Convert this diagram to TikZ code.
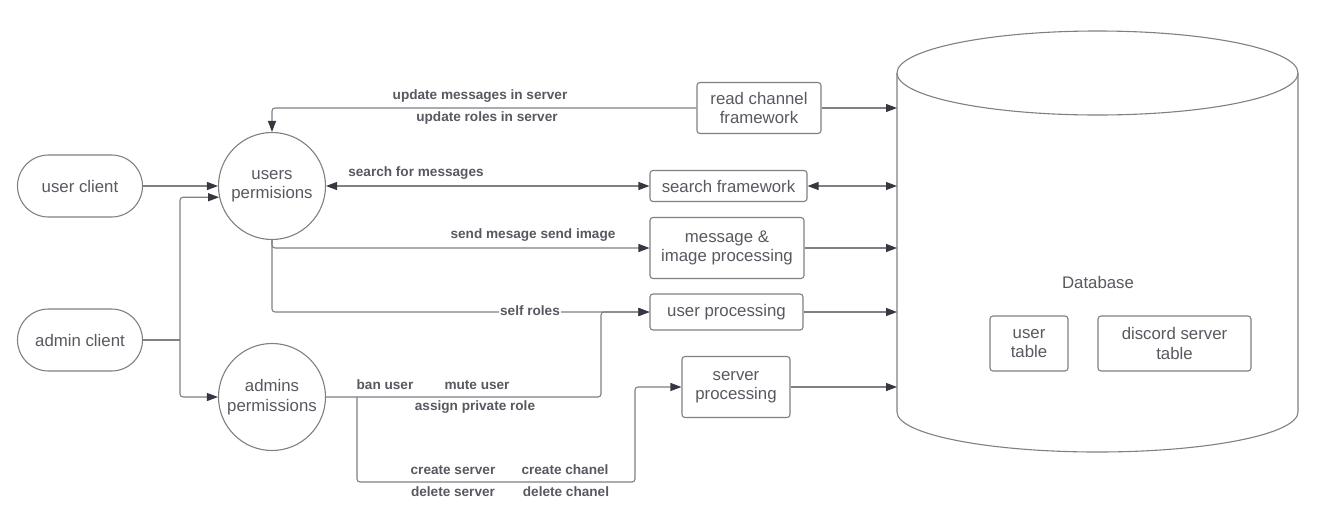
\documentclass[tikz,border=0pt]{standalone}
\usepackage{fontspec}
\setmainfont{Liberation Sans}
\usetikzlibrary{arrows.meta}

\definecolor{linegray}{RGB}{128,128,132}
\definecolor{textgray}{RGB}{88,88,96}
\definecolor{tipgray}{RGB}{55,55,65}

\begin{document}
\begin{tikzpicture}[x=1pt,y=1pt,yscale=-1,
  every node/.style={text=textgray,font=\fontsize{16.8}{19.5}\selectfont},
  client/.style={draw=linegray,line width=1.1pt,rounded corners=31pt,minimum width=125,minimum height=62},
  perm/.style={circle,draw=linegray,line width=1.1pt,minimum size=107,inner sep=0pt,align=center},
  procbox/.style={draw=linegray,line width=1.1pt,rounded corners=3pt,align=center,inner sep=1pt},
  lab/.style={font=\fontsize{13.6}{16}\selectfont\bfseries,inner sep=1pt},
  wire/.style={draw=linegray,line width=1.1pt,rounded corners=3pt},
  conn/.style={wire,-{Triangle[length=11pt,width=8pt,color=tipgray]}},
  conntwo/.style={wire,{Triangle[length=11pt,width=8pt,color=tipgray]}-{Triangle[length=11pt,width=8pt,color=tipgray]}}]
\useasboundingbox (0,0) rectangle (1317,517);

% database cylinder
\draw[linegray,line width=1.1pt] (897,73) -- (897,412) arc[start angle=180,end angle=0,x radius=200.5,y radius=40] -- (1298,73);
\draw[linegray,line width=1.1pt] (1097.5,73) ellipse [x radius=200.5,y radius=42];
\coordinate (dbwall) at (897,0);
\node (dbtext) at (1098,282) {Database};
\node[procbox,minimum width=78,minimum height=55] (ut) at (1029,343.5) {user\\table};
\node[procbox,minimum width=153,minimum height=55] (dst) at (1174.5,343.5) {discord server\\table};

% clients and permissions
\node[client] (uc) at (80,186) {user client};
\node[client] (ac) at (80,340) {admin client};
\node[perm] (up) at (272,186) {users\\permisions};
\node[perm] (ap) at (272,397) {admins\\permissions};

% processing boxes
\node[procbox,minimum width=124,minimum height=51] (rcf) at (759,108) {read channel\\framework};
\node[procbox,minimum width=157,minimum height=31] (sf) at (728.5,186) {search framework};
\node[procbox,minimum width=154,minimum height=61] (mip) at (727,248) {message \&\\image processing};
\node[procbox,minimum width=153,minimum height=36] (upr) at (726.5,312) {user processing};
\node[procbox,minimum width=108,minimum height=61] (sp) at (736,387) {server\\processing};

% clients to permissions
\coordinate (split) at (180,340);
\draw[conn] (uc.east) -- (up.west);
\draw[wire] (ac.east) -- (split);
\draw[conn] (split) |- (up.192);
\draw[conn] (split) |- (ap.west);

% users permissions
\draw[conn] (rcf.west) -| (up.north);
\node[lab] (l1) at (480,96) {update messages in server};
\node[lab] (l2) at (487,118) {update roles in server};
\draw[conntwo] (up.east) -- (sf.west);
\node[lab] (l3) at (416,173) {search for messages};
\draw[conn] (up.south) |- (mip.west);
\node[lab] (l4) at (533,235) {send mesage send image};
\draw[conn] (up.south) |- (upr.west);
\node[lab,fill=white] (l5) at (530,311) {self roles};

% admins permissions
\coordinate (brk) at (357,397);
\coordinate (rise) at (635,482);
\coordinate (joint) at (601,0);
\draw[conn] (ap.east) -| (joint |- upr.west) -- (upr.west);
\node[lab] (l6) at (385,385) {ban user};
\node[lab] (l7) at (477,385) {mute user};
\node[lab] (l8) at (475,407) {assign private role};
\draw[conn] (brk) |- (rise) |- (sp.west);
\node[lab] (l9) at (453,470) {create server};
\node[lab] (l10) at (565,470) {create chanel};
\node[lab] (l11) at (453,492) {delete server};
\node[lab] (l12) at (566,492) {delete chanel};

% to database
\draw[conn] (rcf.east) -- (rcf.east -| dbwall);
\draw[conntwo] (sf.east) -- (sf.east -| dbwall);
\draw[conn] (mip.east) -- (mip.east -| dbwall);
\draw[conn] (upr.east) -- (upr.east -| dbwall);
\draw[conn] (sp.east) -- (sp.east -| dbwall);

\end{tikzpicture}
\end{document}
